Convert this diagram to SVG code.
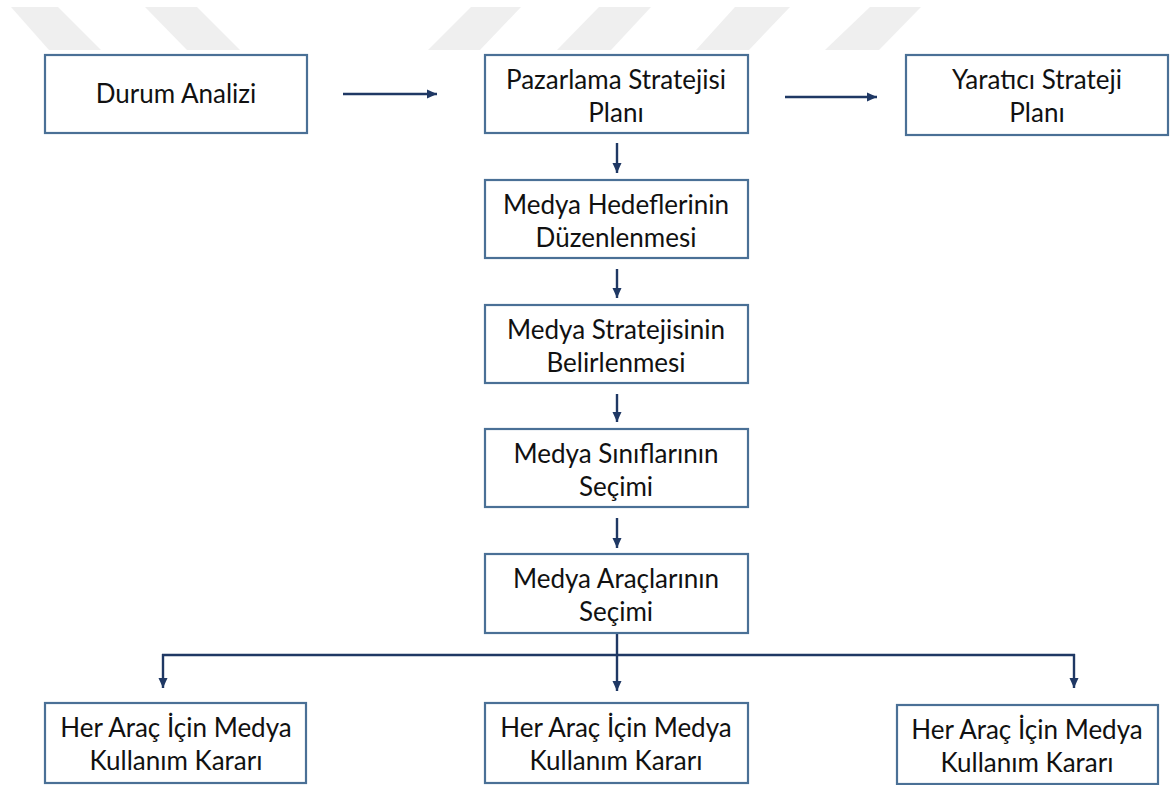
<svg xmlns="http://www.w3.org/2000/svg" width="1176" height="785" viewBox="0 0 1176 785">
<style>
.box{fill:#ffffff;stroke:#4a7096;stroke-width:2.2}
.t{font-family:Lato,"Open Sans","Liberation Sans",sans-serif;font-size:26px;fill:#111111;text-anchor:middle}
.c{fill:none;stroke:#1f3864;stroke-width:2.4}
.wm{fill:#efefef}
</style>
<defs>
<marker id="ah" markerUnits="userSpaceOnUse" markerWidth="12" markerHeight="12" refX="10" refY="5" orient="auto">
<path d="M0,0.5 L10,5 L0,9.5 Z" fill="#1f3864"/>
</marker>
</defs>
<rect width="1176" height="785" fill="#ffffff"/>
<g id="watermark">
<polygon class="wm" points="11,7 58,7 101,50 49,50"/>
<polygon class="wm" points="145,7 197,7 240,50 187,50"/>
<polygon class="wm" points="471,7 521,7 480,50 428,50"/>
<polygon class="wm" points="599,7 651,7 611,50 557,50"/>
<polygon class="wm" points="735,7 790,7 749,50 696,50"/>
<polygon class="wm" points="870,7 921,7 879,50 825,50"/>
</g>
<g id="connectors">
<line class="c" x1="343" y1="94" x2="437" y2="94" marker-end="url(#ah)"/>
<line class="c" x1="785" y1="97" x2="877" y2="97" marker-end="url(#ah)"/>
<line class="c" x1="617" y1="143" x2="617" y2="173" marker-end="url(#ah)"/>
<line class="c" x1="617" y1="269" x2="617" y2="298" marker-end="url(#ah)"/>
<line class="c" x1="617" y1="394" x2="617" y2="422" marker-end="url(#ah)"/>
<line class="c" x1="617" y1="518" x2="617" y2="548" marker-end="url(#ah)"/>
<line class="c" x1="617" y1="633" x2="617" y2="691" marker-end="url(#ah)"/>
<line class="c" x1="162" y1="655" x2="1075" y2="655"/>
<line class="c" x1="163" y1="654" x2="163" y2="688" marker-end="url(#ah)"/>
<line class="c" x1="1074" y1="654" x2="1074" y2="688" marker-end="url(#ah)"/>
</g>
<g id="durum">
<rect class="box" x="45" y="55" width="262" height="78"/>
<text class="t" x="176" y="103">Durum Analizi</text>
</g>
<g id="pazarlama">
<rect class="box" x="485" y="55" width="263" height="78"/>
<text class="t" x="616" y="89">Pazarlama Stratejisi</text>
<text class="t" x="616" y="122">Planı</text>
</g>
<g id="yaratici">
<rect class="box" x="906" y="55" width="262" height="80"/>
<text class="t" x="1037" y="89">Yaratıcı Strateji</text>
<text class="t" x="1037" y="122">Planı</text>
</g>
<g id="hedef">
<rect class="box" x="485" y="180" width="263" height="78"/>
<text class="t" x="616" y="214">Medya Hedeflerinin</text>
<text class="t" x="616" y="247">Düzenlenmesi</text>
</g>
<g id="strateji">
<rect class="box" x="485" y="305" width="263" height="78"/>
<text class="t" x="616" y="339">Medya Stratejisinin</text>
<text class="t" x="616" y="372">Belirlenmesi</text>
</g>
<g id="sinif">
<rect class="box" x="485" y="429" width="263" height="78"/>
<text class="t" x="616" y="463">Medya Sınıflarının</text>
<text class="t" x="616" y="496">Seçimi</text>
</g>
<g id="arac">
<rect class="box" x="485" y="554" width="263" height="79"/>
<text class="t" x="616" y="588">Medya Araçlarının</text>
<text class="t" x="616" y="621">Seçimi</text>
</g>
<g id="karar1">
<rect class="box" x="45" y="703" width="261" height="80"/>
<text class="t" x="176" y="737">Her Araç İçin Medya</text>
<text class="t" x="176" y="770">Kullanım Kararı</text>
</g>
<g id="karar2">
<rect class="box" x="485" y="703" width="263" height="80"/>
<text class="t" x="616" y="737">Her Araç İçin Medya</text>
<text class="t" x="616" y="770">Kullanım Kararı</text>
</g>
<g id="karar3">
<rect class="box" x="897" y="705" width="261" height="79"/>
<text class="t" x="1027" y="739">Her Araç İçin Medya</text>
<text class="t" x="1027" y="772">Kullanım Kararı</text>
</g>
</svg>
